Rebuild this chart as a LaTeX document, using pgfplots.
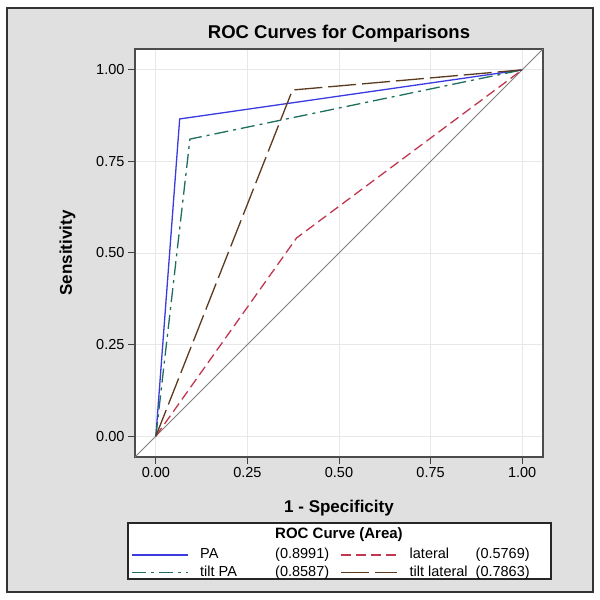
\documentclass[border=0pt]{standalone}
\usepackage{pgfplots}
\pgfplotsset{compat=1.18}
\usepackage{fontspec}
\setmainfont{Liberation Sans}
\definecolor{bgc}{HTML}{E0E0E0}
\definecolor{cPA}{HTML}{3B3BE0}
\definecolor{cTPA}{HTML}{1F6F5F}
\definecolor{cLat}{HTML}{C0374F}
\definecolor{cTLat}{HTML}{5C3A1E}
\begin{document}
\begin{tikzpicture}
\path[use as bounding box] (0pt,0pt) rectangle (600pt,600pt);
\draw[fill=bgc, draw=black!80, line width=1.2pt] (7pt,8pt) rectangle (593pt,592pt);
\draw[fill=white, draw=black!85, line width=1.2pt] (128pt,21pt) rectangle (551pt,77pt);
\node[font=\fontsize{15}{17}\selectfont\bfseries] at (339pt,65pt) {ROC Curve (Area)};
\begin{axis}[
  at={(135pt,143pt)}, anchor=south west,
  width=408pt, height=408pt, scale only axis,
  xmin=-0.057, xmax=1.057, ymin=-0.057, ymax=1.057,
  axis background/.style={fill=white},
  axis line style={draw=black!70, line width=1.2pt},
  xtick={0,0.25,0.5,0.75,1}, ytick={0,0.25,0.5,0.75,1},
  xticklabels={0.00,0.25,0.50,0.75,1.00},
  yticklabels={0.00,0.25,0.50,0.75,1.00},
  tick align=outside, tick pos=left,
  major tick length=7pt,
  tick style={draw=black!75, line width=1pt},
  grid=major, grid style={draw=black!9, line width=0.8pt},
  ticklabel style={font=\fontsize{14.5}{16}\selectfont},
  /pgf/number format/assume math mode=true,
  title={ROC Curves for Comparisons},
  title style={font=\fontsize{18.5}{21}\selectfont\bfseries, at={(0.5,1)}, anchor=south, yshift=-3pt},
  xlabel={1 - Specificity}, ylabel={Sensitivity},
  label style={font=\fontsize{17}{19}\selectfont\bfseries},
  xlabel style={yshift=-16pt},
  ylabel style={yshift=14pt},
  legend columns=2,
  legend cell align=left,
  legend style={at={(-0.0172,-0.215)}, anchor=north west, draw=none, fill=none,
    font=\fontsize{14.5}{16}\selectfont,
    nodes={inner sep=1.5pt, text height=10.5pt, text depth=3pt},
    row sep=1pt,
    /tikz/every odd column/.append style={column sep=10pt},
    /tikz/every even column/.append style={column sep=10pt}},
  legend image code/.code={\draw[#1, line width=1.5pt] (0pt,0pt) -- (56pt,0pt);},
]
\addplot[forget plot, color=black!50, line width=0.9pt] coordinates {(-0.057,-0.057) (1.057,1.057)};
\addplot[color=cPA, line width=1.3pt] coordinates {(0,0) (0.065,0.866) (1,1)};
\addlegendentry{\makebox[75pt][l]{PA}(0.8991)}
\addplot[color=cLat, line width=1.3pt, dash pattern=on 10pt off 5pt] coordinates {(0,0) (0.384,0.541) (1,1)};
\addlegendentry{\makebox[66pt][l]{lateral}(0.5769)}
\addplot[color=cTPA, line width=1.3pt, dash pattern=on 14pt off 5pt on 3pt off 5pt] coordinates {(0,0) (0.093,0.811) (1,1)};
\addlegendentry{\makebox[75pt][l]{tilt PA}(0.8587)}
\addplot[color=cTLat, line width=1.3pt, dash pattern=on 28pt off 6pt] coordinates {(0,0) (0.373,0.945) (1,1)};
\addlegendentry{\makebox[66pt][l]{tilt lateral}(0.7863)}
\end{axis}
\end{tikzpicture}
\end{document}
